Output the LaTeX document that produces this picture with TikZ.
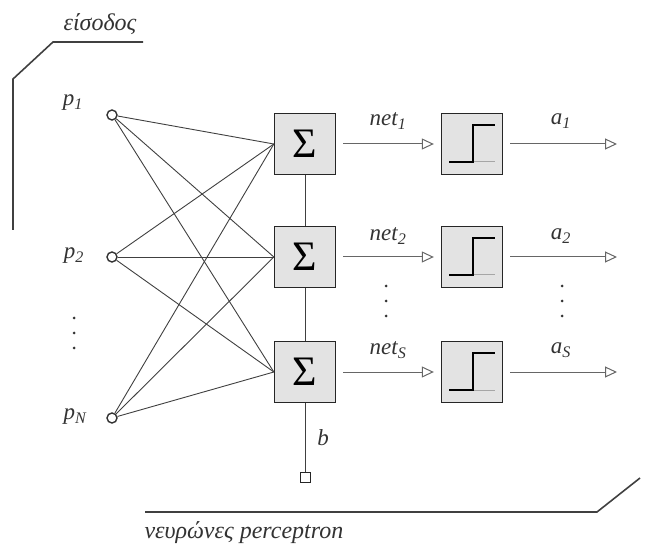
\documentclass[tikz,border=0pt]{standalone}
\usepackage{fontspec}
\setmainfont{Liberation Serif}
\usetikzlibrary{arrows.meta}
\begin{document}
\begin{tikzpicture}[x=1pt,y=-1pt,
  inp/.style={circle, draw=black!80, line width=1.4pt, minimum size=10pt, inner sep=0pt},
  sumbox/.style={draw=black!85, line width=1.3pt, fill=gray!22, minimum size=61pt, inner sep=0pt, font=\fontsize{42}{42}\selectfont},
  stepbox/.style={draw=black!85, line width=1.3pt, fill=gray!22, minimum size=61pt, inner sep=0pt},
  biasbox/.style={draw=black!85, line width=1pt, minimum size=10pt, inner sep=0pt},
  lbl/.style={font=\itshape\fontsize{23}{23}\selectfont, text=black!80},
  conn/.style={line width=0.9pt, draw=black!75},
  arr/.style={line width=1pt, draw=black!60, -{Triangle[open,length=12pt,width=11pt]}},
  brk/.style={line width=1.6pt, draw=black!75},
  dot/.style={circle, fill=black!80, minimum size=3pt, inner sep=0pt}
]
\useasboundingbox (0,0) rectangle (648,545);

% inputs
\node[inp] (p1) at (112,115) {};
\node[inp] (p2) at (112,257) {};
\node[inp] (pN) at (112,418) {};
\node[lbl] (lp1) at (73,103) {p\textsubscript{1}};
\node[lbl] (lp2) at (74,256) {p\textsubscript{2}};
\node[lbl] (lpN) at (75,417) {p\textsubscript{N}};

% summation boxes
\node[sumbox] (s1) at (305,144) {Σ};
\node[sumbox] (s2) at (305,257) {Σ};
\node[sumbox] (s3) at (305,372) {Σ};

% step boxes
\node[stepbox] (f1) at (472,144) {};
\node[stepbox] (f2) at (472,257) {};
\node[stepbox] (f3) at (472,372) {};

% output end points
\coordinate (o1) at (617,144);
\coordinate (o2) at (617,257);
\coordinate (o3) at (617,372);

% bias
\node[biasbox] (bs) at (305,477) {};
\node[lbl] (lb) at (323,438) {b};

% connections inputs -> sums
\foreach \p in {p1,p2,pN}{
  \foreach \s in {s1,s2,s3}{
    \draw[conn] (\p) -- (\s.west);
  }
}
\draw[conn] (s1) -- (s2);
\draw[conn] (s2) -- (s3);
\draw[conn] (s3) -- (bs);

% arrows
\foreach \i in {1,2,3}{
  \draw[arr, shorten <=7pt, shorten >=7pt] (s\i) -- (f\i);
  \draw[arr, shorten <=7pt] (f\i) -- (o\i);
}

% step symbols
\foreach \n in {f1,f2,f3}{
  \draw[black!35, line width=1pt] ([shift={(1,18)}]\n.center) -- ([shift={(23,18)}]\n.center);
  \draw[black, line width=1.8pt] ([shift={(-23,18)}]\n.center) -- ([shift={(1,18)}]\n.center) -- ([shift={(1,-19)}]\n.center) -- ([shift={(23,-19)}]\n.center);
}

% labels
\node[lbl] (n1) at (388,121) {net\textsubscript{1}};
\node[lbl] (n2) at (388,236) {net\textsubscript{2}};
\node[lbl] (n3) at (388,350) {net\textsubscript{S}};
\node[lbl] (a1) at (561,121) {a\textsubscript{1}};
\node[lbl] (a2) at (561,236) {a\textsubscript{2}};
\node[lbl] (a3) at (561,350) {a\textsubscript{S}};

% dots
\foreach \y in {286,301,316}{
  \node[dot] at (386,\y) {};
  \node[dot] at (562,\y) {};
}
\foreach \y in {318,333,348}{
  \node[dot] at (74,\y) {};
}

% brackets
\draw[brk] (143,42) -- (53,42) -- (13,79) -- (13,230);
\node[lbl, font=\itshape\fontsize{24}{24}\selectfont] (tin) at (100,24) {είσοδος};
\draw[brk] (145,512) -- (597,512) -- (640,478);
\node[lbl, font=\itshape\fontsize{24}{24}\selectfont, anchor=west] (tout) at (141,533) {νευρώνες perceptron};
\end{tikzpicture}
\end{document}
